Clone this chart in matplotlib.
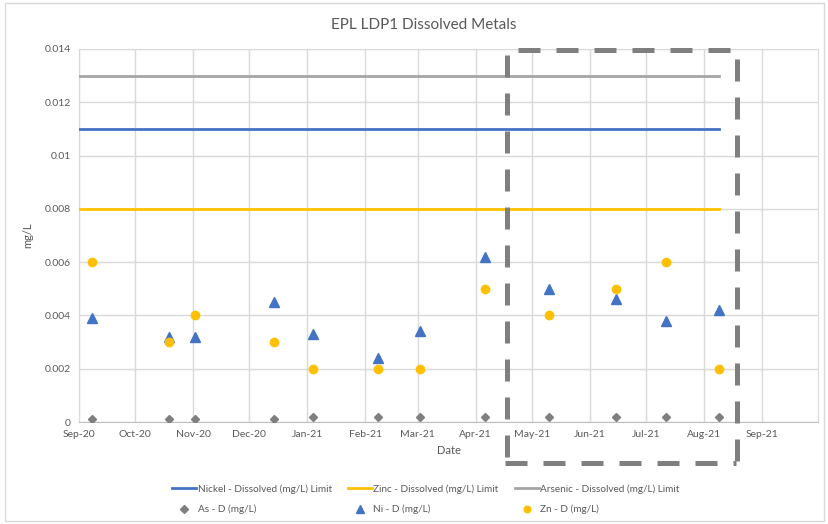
import matplotlib
matplotlib.use("Agg")
import matplotlib.pyplot as plt
import matplotlib.dates as mdates
from matplotlib.patches import Rectangle
from matplotlib.lines import Line2D
import pandas as pd

plt.rcParams['font.family'] = ['Lato', 'DejaVu Sans']

# ---- data ----
sample_dates = ["2020-09-08", "2020-10-19", "2020-11-02", "2020-12-14", "2021-01-04",
                "2021-02-08", "2021-03-02", "2021-04-06", "2021-05-10", "2021-06-15",
                "2021-07-12", "2021-08-09"]
as_d = [0.0001, 0.0001, 0.0001, 0.0001, 0.0002, 0.0002, 0.0002, 0.0002, 0.0002, 0.0002, 0.0002, 0.0002]
ni_d = [0.0039, 0.0032, 0.0032, 0.0045, 0.0033, 0.0024, 0.0034, 0.0062, 0.0050, 0.0046, 0.0038, 0.0042]
zn_d = [0.006, 0.003, 0.004, 0.003, 0.002, 0.002, 0.002, 0.005, 0.004, 0.005, 0.006, 0.002]

limit_dates = ["2020-09-01", "2021-08-09"]
nickel_limit = [0.011, 0.011]
zinc_limit = [0.008, 0.008]
arsenic_limit = [0.013, 0.013]

x_min, x_max = "2020-09-01", "2021-10-01"
tick_months = pd.date_range("2020-09-01", "2021-09-01", freq="MS")

sd = pd.to_datetime(sample_dates)
ld = pd.to_datetime(limit_dates)

W, H = 829, 524
fig = plt.figure(figsize=(W / 100, H / 100), dpi=100)
ax = fig.add_axes([79 / W, 1 - 422 / H, (818 - 79) / W, (422 - 49) / H])

txt = '#595959'
grid = '#d9d9d9'

h1, = ax.plot(ld, nickel_limit, color='#4472C4', lw=2, label='Nickel - Dissolved (mg/L) Limit', zorder=3)
h2, = ax.plot(ld, zinc_limit, color='#FFC000', lw=2, label='Zinc - Dissolved (mg/L) Limit', zorder=3)
h3, = ax.plot(ld, arsenic_limit, color='#A5A5A5', lw=2, label='Arsenic - Dissolved (mg/L) Limit', zorder=3)
h4, = ax.plot(sd, as_d, ls='none', marker='D', ms=4.5, color='#7F7F7F', label='As - D (mg/L)', zorder=4)
h5, = ax.plot(sd, ni_d, ls='none', marker='^', ms=7.5, color='#4472C4', label='Ni - D (mg/L)', zorder=5)
h6, = ax.plot(sd, zn_d, ls='none', marker='o', ms=6, color='#FFC000', label='Zn - D (mg/L)', zorder=6)

ax.set_xlim(pd.Timestamp(x_min), pd.Timestamp(x_max))
ax.set_ylim(0, 0.014)
ax.set_xticks(tick_months)
ax.xaxis.set_major_formatter(mdates.DateFormatter('%b-%y'))
ax.set_yticks([0, 0.002, 0.004, 0.006, 0.008, 0.01, 0.012, 0.014])
ax.set_yticklabels(['0', '0.002', '0.004', '0.006', '0.008', '0.01', '0.012', '0.014'])
ax.tick_params(length=0, colors=txt, labelsize=7.5, pad=6)
ax.grid(True, color=grid, lw=1, zorder=0)
ax.set_axisbelow(True)
for s in ['top', 'right', 'left']:
    ax.spines[s].set_color(grid)
ax.spines['bottom'].set_color('#bfbfbf')

ax.set_xlabel('Date', color=txt, fontsize=8, labelpad=4)
ax.set_ylabel('mg/L', color=txt, fontsize=8, labelpad=8)
fig.text(424 / W, 1 - 25 / H, 'EPL LDP1 Dissolved Metals', ha='center', va='center',
         color=txt, fontsize=11)

order = [h1, h4, h2, h5, h3, h6]
leg = fig.legend(order, [h.get_label() for h in order],
                 ncol=3, loc='center', bbox_to_anchor=(426 / W, 1 - 499 / H),
                 frameon=False, fontsize=7.2, labelcolor=txt, handlelength=2.4,
                 handletextpad=0.15, columnspacing=1.6, labelspacing=1.1, markerscale=0.8)

# highlight box (dashed), drawn as explicit dash segments in figure pixel coordinates
box_col = '#7F7F7F'
DASH, GAP = 22, 16
def dashed_edge(x0, y0, x1, y1, lead_gap):
    horizontal = (y0 == y1)
    start, end = (x0, x1) if horizontal else (y0, y1)
    p = start + lead_gap
    while p < end:
        q = min(p + DASH, end)
        if horizontal:
            xs, ys = [p, q], [y0, y0]
        else:
            xs, ys = [x0, x0], [p, q]
        fig.lines.append(Line2D([v / W for v in xs], [1 - v / H for v in ys],
                                transform=fig.transFigure, color=box_col, lw=3.6,
                                solid_capstyle='butt', zorder=10))
        p += DASH + GAP
dashed_edge(507, 50, 736, 50, 11)
dashed_edge(507, 55, 507, 465, 0)
dashed_edge(505, 463, 736, 463, 0)
dashed_edge(737, 59, 737, 466, 0)

# chart border
fig.patches.append(Rectangle((5 / W, 3 / H), (824 - 5) / W, (521 - 3) / H,
                             transform=fig.transFigure, fill=False, edgecolor='#d9d9d9', lw=1))

fig.savefig('out.png', dpi=100)
